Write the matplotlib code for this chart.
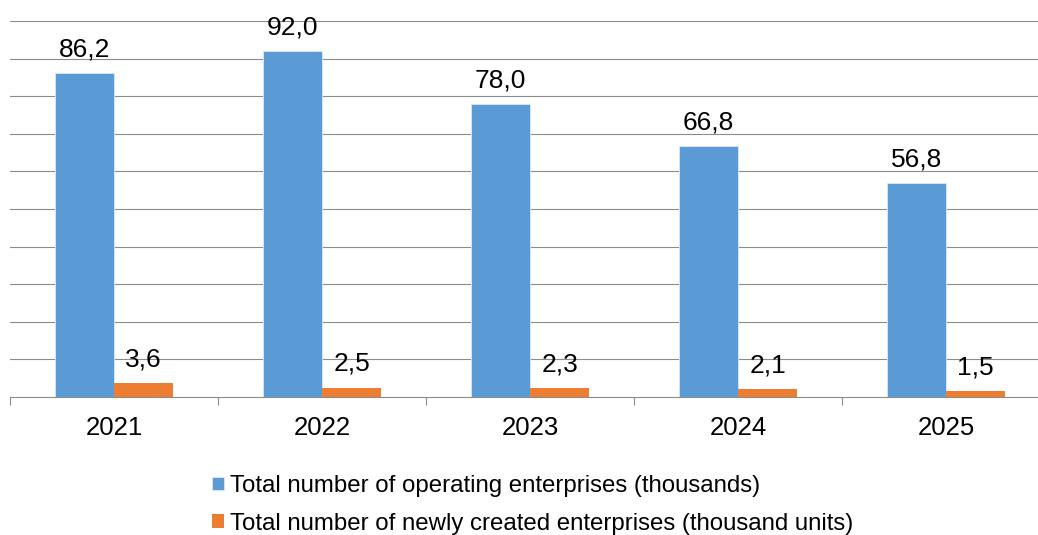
import matplotlib.pyplot as plt
import numpy as np

years = ["2021", "2022", "2023", "2024", "2025"]
operating = [86.2, 92.0, 78.0, 66.8, 56.8]
newly_created = [3.6, 2.5, 2.3, 2.1, 1.5]

series_names = ["Total number of operating enterprises (thousands)",
                "Total number of newly created enterprises (thousand units)"]


def fmt(v):
    return f"{v:.1f}".replace(".", ",")


def plot():
    plt.rcParams['font.family'] = ['Liberation Sans', 'DejaVu Sans']
    fig = plt.figure(figsize=(10.38, 5.35), dpi=100)
    ax = fig.add_axes([10 / 1038, 138 / 535, 1040 / 1038, 376 / 535])

    x = np.arange(len(years))
    w = 0.286
    b1 = ax.bar(x - w / 2, operating, w, color="#5B9BD5",
                edgecolor="#DCE8F5", linewidth=0.6, label=series_names[0], zorder=3)
    b2 = ax.bar(x + w / 2, newly_created, w, color="#ED7D31",
                edgecolor="#ED7D31", linewidth=0.0, label=series_names[1], zorder=3)

    for bars, vals in ((b1, operating), (b2, newly_created)):
        for rect, v in zip(bars, vals):
            ax.annotate(fmt(v), (rect.get_x() + rect.get_width() / 2, v),
                        xytext=(0, 12), textcoords="offset points",
                        ha="center", va="baseline", fontsize=19, color="black")

    ax.set_xlim(-0.5, len(years) - 0.5)
    ax.set_ylim(0, 100)
    ax.set_yticks(np.arange(10, 101, 10))
    ax.yaxis.grid(True, color="#8C8C8C", linewidth=0.8, zorder=0)
    ax.tick_params(axis="y", left=False, labelleft=False)

    ax.set_xticks(x)
    ax.set_xticklabels(years, fontsize=18.5)
    ax.tick_params(axis="x", length=0, pad=14)
    ax.set_xticks(np.arange(-0.5, len(years), 1), minor=True)
    ax.tick_params(axis="x", which="minor", length=6, width=0.8,
                   color="#8C8C8C", direction="out")

    for side in ("left", "right", "top"):
        ax.spines[side].set_visible(False)
    ax.spines["bottom"].set_color("#8C8C8C")
    ax.spines["bottom"].set_linewidth(0.8)

    fig.legend(handles=[b1, b2], loc="upper left",
               bbox_to_anchor=(200 / 1038, 1 - 463 / 535), frameon=False,
               fontsize=17.3, handlelength=0.5, handleheight=0.5,
               handletextpad=0.25, labelspacing=0.65, borderpad=0)

    fig.savefig("out.png", dpi=100)


if __name__ == "__main__":
    plot()
